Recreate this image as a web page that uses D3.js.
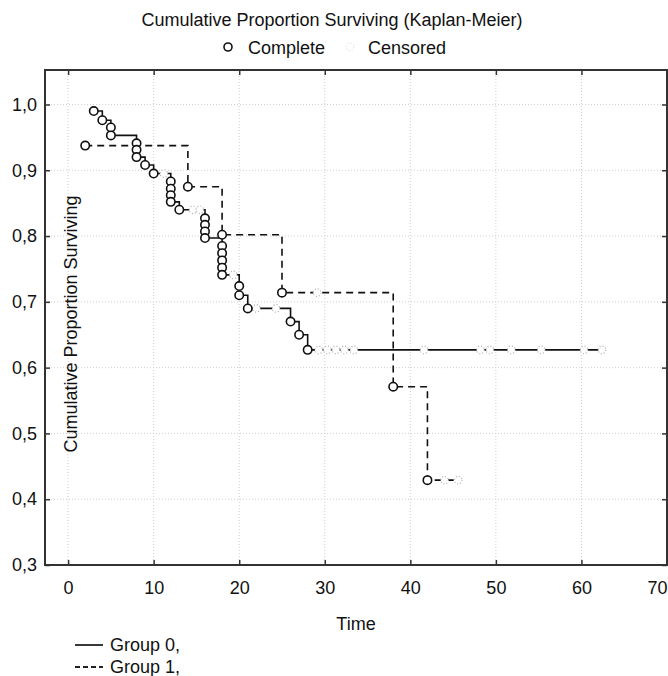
<!DOCTYPE html>
<html>
<head>
<meta charset="utf-8">
<script src="https://cdn.jsdelivr.net/npm/d3@7"></script>
<style>
  body { margin: 0; background: #fff; }
  text { font-family: "Liberation Sans", Arial, sans-serif; fill: #111; }
</style>
</head>
<body>
<div id="chart"></div>
<script>
// Kaplan-Meier data
let g0Time = [3, 4, 5, 5, 8, 8, 8, 9, 10, 12, 12, 12, 12, 13, 16, 16, 16, 16, 18, 18, 18, 18, 18, 20, 20, 21, 26, 27, 28]
let g0Surv = [0.990, 0.976, 0.965, 0.953, 0.941, 0.931, 0.920, 0.908, 0.895, 0.883, 0.872, 0.862, 0.852, 0.840,
              0.827, 0.817, 0.807, 0.797, 0.785, 0.774, 0.763, 0.752, 0.741, 0.724, 0.710, 0.690, 0.670, 0.650, 0.627]
let g0Cens = [11.2, 14.6, 15.4, 19.3, 22.0, 24.3, 29.3, 30.3, 31.3, 32.3, 33.4, 41.6, 48.2, 49.3, 51.8, 55.3, 60.3, 62.4]

let g1Time = [2, 14, 18, 25, 38, 42]
let g1Surv = [0.9375, 0.875, 0.802, 0.714, 0.571, 0.429]
let g1Cens = [29.1, 44.0, 45.6]

let xTicks = [0, 10, 20, 30, 40, 50, 60, 70]
let yTicks = [0.3, 0.4, 0.5, 0.6, 0.7, 0.8, 0.9, 1.0]

let width = 668
    height = 676
    plot = {left: 45, right: 667, top: 70, bottom: 565}

let svg = d3.select('#chart')
  .append('svg')
    .attr('width', width)
    .attr('height', height)

let x = d3.scaleLinear().domain([-2.7, 70]).range([plot.left, plot.right])
let y = d3.scaleLinear().domain([0.3, 1.0524]).range([plot.bottom, plot.top])

let comma = d3.formatLocale({decimal: ',', thousands: '.', grouping: [3], currency: ['', '']}).format('.1f')

// grid
svg.append('g')
  .selectAll('line')
  .data(xTicks)
  .enter().append('line')
    .attr('x1', d => x(d)).attr('x2', d => x(d))
    .attr('y1', plot.top).attr('y2', plot.bottom)
    .attr('stroke', '#cfcfcf').attr('stroke-dasharray', '1,2')
svg.append('g')
  .selectAll('line')
  .data(yTicks)
  .enter().append('line')
    .attr('x1', plot.left).attr('x2', plot.right)
    .attr('y1', d => y(d)).attr('y2', d => y(d))
    .attr('stroke', '#cfcfcf').attr('stroke-dasharray', '1,2')

// axes, ticks pointing inward
let fontSize = 18
svg.append('g')
  .attr('transform', `translate(0,${plot.bottom})`)
  .call(d3.axisBottom(x).tickValues(xTicks).tickSize(-5).tickPadding(16))
svg.append('g')
  .attr('transform', `translate(${plot.left},0)`)
  .call(d3.axisLeft(y).tickValues(yTicks).tickSize(-5).tickPadding(8).tickFormat(comma))
svg.append('g')
  .attr('transform', `translate(0,${plot.top})`)
  .call(d3.axisTop(x).tickValues(xTicks).tickSize(-5).tickFormat(''))
svg.append('g')
  .attr('transform', `translate(${plot.right},0)`)
  .call(d3.axisRight(y).tickValues(yTicks).tickSize(-5).tickFormat(''))

svg.selectAll('.domain').remove()
svg.selectAll('.tick line').attr('stroke', '#333').attr('stroke-width', 1.5)
svg.selectAll('.tick text').style('font-size', fontSize + 'px').attr('fill', '#111')
// last x label kept inside the window
svg.selectAll('.tick text').filter(d => d === 70).attr('text-anchor', 'end').attr('dx', '0')

// frame
svg.append('rect')
  .attr('x', plot.left).attr('y', plot.top)
  .attr('width', plot.right - plot.left).attr('height', plot.bottom - plot.top)
  .attr('fill', 'none').attr('stroke', '#333').attr('stroke-width', 2)

// step curves
let stepLine = d3.line()
  .x(d => x(d[0]))
  .y(d => y(d[1]))
  .curve(d3.curveStepAfter)

function curvePoints(times, surv, cens) {
  let pts = times.map((t, i) => [t, surv[i]])
  pts.push([d3.max(cens), surv[surv.length - 1]])
  return pts
}
function survAt(times, surv, t) {
  let s = surv[0]
  times.forEach((tt, i) => { if (tt <= t) s = surv[i] })
  return s
}

let groups = [
  {times: g0Time, surv: g0Surv, cens: g0Cens, dash: null},
  {times: g1Time, surv: g1Surv, cens: g1Cens, dash: '7,5'}
]

groups.forEach(g => {
  svg.append('path')
    .datum(curvePoints(g.times, g.surv, g.cens))
    .attr('d', stepLine)
    .attr('fill', 'none')
    .attr('stroke', '#111')
    .attr('stroke-width', 1.6)
    .attr('stroke-dasharray', g.dash)
})

// censored marks: faint dotted circles that hide the line
groups.forEach(g => {
  svg.append('g')
    .selectAll('circle')
    .data(g.cens)
    .enter().append('circle')
      .attr('cx', d => x(d))
      .attr('cy', d => y(survAt(g.times, g.surv, d)))
      .attr('r', 3.8)
      .attr('fill', '#fff')
      .attr('stroke', '#b0b0b0')
      .attr('stroke-width', 1.2)
      .attr('stroke-dasharray', '1,2')
})

// complete (event) marks
groups.forEach(g => {
  svg.append('g')
    .selectAll('circle')
    .data(g.times.map((t, i) => [t, g.surv[i]]))
    .enter().append('circle')
      .attr('cx', d => x(d[0]))
      .attr('cy', d => y(d[1]))
      .attr('r', 4.2)
      .attr('fill', '#fff')
      .attr('stroke', '#111')
      .attr('stroke-width', 1.6)
})

// titles
svg.append('text')
  .attr('x', 332).attr('y', 26)
  .attr('text-anchor', 'middle')
  .style('font-size', fontSize + 'px')
  .text('Cumulative Proportion Surviving (Kaplan-Meier)')

svg.append('circle')
  .attr('cx', 228).attr('cy', 47).attr('r', 4)
  .attr('fill', '#fff').attr('stroke', '#111').attr('stroke-width', 1.6)
svg.append('text')
  .attr('x', 248).attr('y', 54)
  .style('font-size', fontSize + 'px')
  .text('Complete')
svg.append('circle')
  .attr('cx', 350).attr('cy', 47).attr('r', 3.8)
  .attr('fill', '#fff').attr('stroke', '#d5d5d5').attr('stroke-dasharray', '1,2')
svg.append('text')
  .attr('x', 368).attr('y', 54)
  .style('font-size', fontSize + 'px')
  .text('Censored')

svg.append('text')
  .attr('x', 356).attr('y', 630)
  .attr('text-anchor', 'middle')
  .style('font-size', fontSize + 'px')
  .text('Time')

svg.append('text')
  .attr('transform', `translate(77,${324}) rotate(-90)`)
  .attr('text-anchor', 'middle')
  .style('font-size', fontSize + 'px')
  .text('Cumulative Proportion Surviving')

// bottom legend
let legendRows = [{label: 'Group 0,', dash: null, y: 645}, {label: 'Group 1,', dash: '5,3', y: 667}]
legendRows.forEach(r => {
  svg.append('line')
    .attr('x1', 75).attr('x2', 103)
    .attr('y1', r.y).attr('y2', r.y)
    .attr('stroke', '#222').attr('stroke-width', 1.8)
    .attr('stroke-dasharray', r.dash)
  svg.append('text')
    .attr('x', 110).attr('y', r.y + 6)
    .style('font-size', fontSize + 'px')
    .text(r.label)
})
</script>
</body>
</html>
